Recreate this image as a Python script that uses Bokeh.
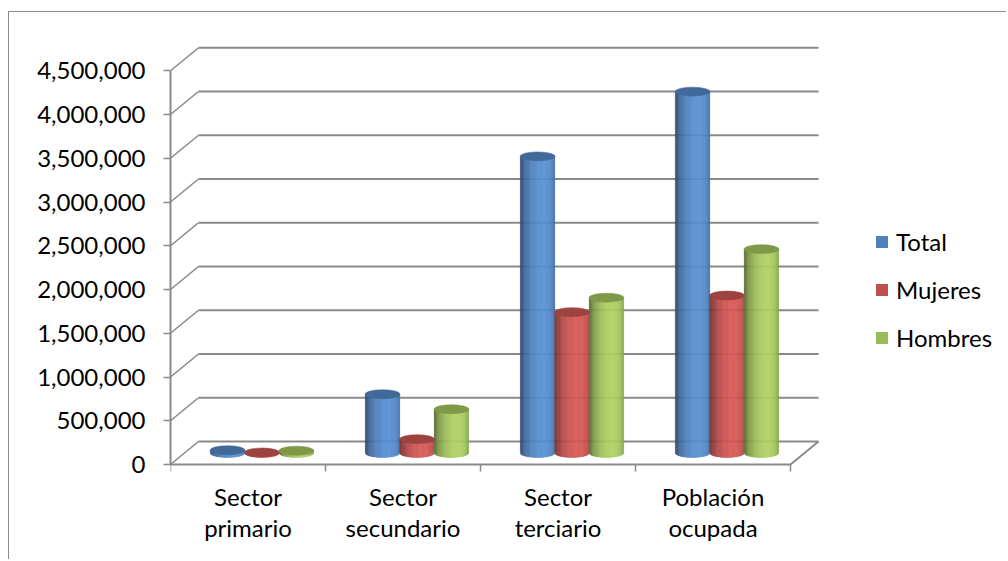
import math

from bokeh.embed import file_html
from bokeh.models import FixedTicker, Legend, LegendItem, NumeralTickFormatter, Range1d
from bokeh.plotting import figure
from bokeh.resources import INLINE

# ---- data -------------------------------------------------------------
categories = ["Sector primario", "Sector secundario", "Sector terciario", "Población ocupada"]
category_labels = ["Sector\nprimario", "Sector\nsecundario", "Sector\nterciario", "Población\nocupada"]
series_names = ["Total", "Mujeres", "Hombres"]
total = [32000, 672000, 3390000, 4130000]
mujeres = [6000, 158000, 1610000, 1800000]
hombres = [26000, 500000, 1775000, 2330000]
series_colors = ["#4F81BD", "#C0504D", "#9BBB59"]
y_ticks = [0, 500000, 1000000, 1500000, 2000000, 2500000, 3000000, 3500000, 4000000, 4500000]

series_values = [total, mujeres, hombres]

# ---- geometry of the pseudo-3D box -------------------------------------
W, H = 998, 548
LEFT, TOP, BOTTOM = 161, 13, 88
FRAME_W = W - LEFT
FRAME_H = H - TOP - BOTTOM
PX_PER_CAT = 155.0
UNITS_PER_PX = 500000 / 43.75
ZERO_UP_PX = 8          # front floor edge sits this far above the frame bottom
DEPTH_DX = 28 / PX_PER_CAT
DEPTH_DY = 23 * UNITS_PER_PX
BAR_W = 1 / 4.5         # gap width 150%
ELL_B = 4.5 * UNITS_PER_PX
N_CAT = len(categories)

GRID = "#8a8a8a"
FONT = "Lato"

p = figure(
    width=W, height=H,
    x_range=Range1d(0, FRAME_W / PX_PER_CAT),
    y_range=Range1d(-ZERO_UP_PX * UNITS_PER_PX, (FRAME_H - ZERO_UP_PX) * UNITS_PER_PX),
    output_backend="svg", toolbar_location=None,
    min_border_left=LEFT, min_border_top=TOP, min_border_bottom=BOTTOM, min_border_right=0,
    margin=(11, 0, 0, 8),
    styles={"border-left": "1px solid #8c8c8c", "border-top": "1px solid #8c8c8c"},
)
p.xgrid.grid_line_color = None
p.ygrid.grid_line_color = None
p.outline_line_color = None
p.background_fill_color = "white"
p.border_fill_color = "white"

# back wall gridlines
p.segment(x0=[DEPTH_DX] * len(y_ticks), y0=[t + DEPTH_DY for t in y_ticks],
          x1=[N_CAT + DEPTH_DX] * len(y_ticks), y1=[t + DEPTH_DY for t in y_ticks],
          line_color=GRID, line_width=2)
# side wall diagonals
p.segment(x0=[0] * len(y_ticks), y0=y_ticks,
          x1=[DEPTH_DX] * len(y_ticks), y1=[t + DEPTH_DY for t in y_ticks],
          line_color=GRID, line_width=1.6)
# floor: front edge, right edge and category ticks
p.segment(x0=[0, N_CAT], y0=[0, 0], x1=[N_CAT, N_CAT + DEPTH_DX], y1=[0, DEPTH_DY],
          line_color=GRID, line_width=2)
p.segment(x0=list(range(N_CAT + 1)), y0=[0] * (N_CAT + 1),
          x1=list(range(N_CAT + 1)), y1=[-7 * UNITS_PER_PX] * (N_CAT + 1),
          line_color=GRID, line_width=1.5)


def shade(hex_color, f):
    r, g, b = (int(hex_color[k:k + 2], 16) for k in (1, 3, 5))
    return "#%02x%02x%02x" % tuple(max(0, min(255, int(round(c * f)))) for c in (r, g, b))


# cylinders: finely shaded vertical strips with a rounded bottom, then a darker top ellipse
N_STRIPS = 40
LIGHT = 0.35
xs, ys, cols = [], [], []
tops_x, tops_y, tops_c = [], [], []
for i in range(N_CAT):
    for j, vals in enumerate(series_values):
        v = vals[i]
        cx = i + 0.5 + (j - 1) * BAR_W + DEPTH_DX / 2
        base = DEPTH_DY / 2
        top = base + v
        a = BAR_W / 2
        for k in range(N_STRIPS):
            t0, t1 = k / N_STRIPS, (k + 1) / N_STRIPS
            xl, xr = cx - a + 2 * a * t0, cx - a + 2 * a * t1
            yl = base - ELL_B * math.sqrt(max(0.0, 1 - ((xl - cx) / a) ** 2))
            yr = base - ELL_B * math.sqrt(max(0.0, 1 - ((xr - cx) / a) ** 2))
            tm = (t0 + t1) / 2
            phi = math.asin(2 * tm - 1)
            diffuse = max(0.0, math.cos(phi - LIGHT))
            f = 0.6 + 0.52 * diffuse
            xs.append([xl, xr, xr, xl])
            ys.append([top, top, yr, yl])
            cols.append(shade(series_colors[j], f))
        tops_x.append(cx)
        tops_y.append(top)
        tops_c.append(shade(series_colors[j], 0.82))

p.patches(xs=xs, ys=ys, fill_color=cols, line_color=cols, line_width=0.4)
p.ellipse(x=tops_x, y=tops_y, width=35, height=9, width_units="screen", height_units="screen",
          fill_color=tops_c, line_color=tops_c, line_width=0.5)

# axes
p.yaxis.ticker = FixedTicker(ticks=y_ticks)
p.yaxis.formatter = NumeralTickFormatter(format="0,0")
p.yaxis.bounds = (0, y_ticks[-1])
p.yaxis.axis_line_color = GRID
p.yaxis.axis_line_width = 2
p.yaxis.major_tick_line_color = GRID
p.yaxis.major_tick_line_width = 1.5
p.yaxis.major_tick_out = 7
p.yaxis.major_tick_in = 0
p.yaxis.minor_tick_line_color = None
p.yaxis.major_label_standoff = 18
p.yaxis.major_label_text_font = FONT
p.yaxis.major_label_text_font_size = "24px"
p.yaxis.major_label_text_color = "black"

p.xaxis.ticker = FixedTicker(ticks=[i + 0.5 for i in range(N_CAT)])
p.xaxis.major_label_overrides = {i + 0.5: lab for i, lab in enumerate(category_labels)}
p.xaxis.axis_line_color = None
p.xaxis.major_tick_line_color = None
p.xaxis.minor_tick_line_color = None
p.xaxis.major_tick_out = 0
p.xaxis.major_tick_in = 0
p.xaxis.major_label_standoff = 9
p.xaxis.major_label_text_font = FONT
p.xaxis.major_label_text_font_size = "24px"
p.xaxis.major_label_text_color = "black"
p.xaxis.major_label_text_line_height = 1.1

# legend swatches
nan = float("nan")
items = []
for name, c in zip(series_names, series_colors):
    r = p.quad(left=[nan], right=[nan], top=[nan], bottom=[nan], fill_color=c, line_color=None)
    items.append(LegendItem(label=name, renderers=[r]))
legend = Legend(
    items=items, location=(704, 120), orientation="vertical",
    glyph_width=15, glyph_height=15, label_height=30, spacing=18, label_standoff=7,
    padding=0, margin=0, border_line_color=None, background_fill_alpha=0,
    label_text_font=FONT, label_text_font_size="24px", label_text_color="black",
)
p.add_layout(legend)

open("out.html", "w").write(file_html(p, INLINE))
